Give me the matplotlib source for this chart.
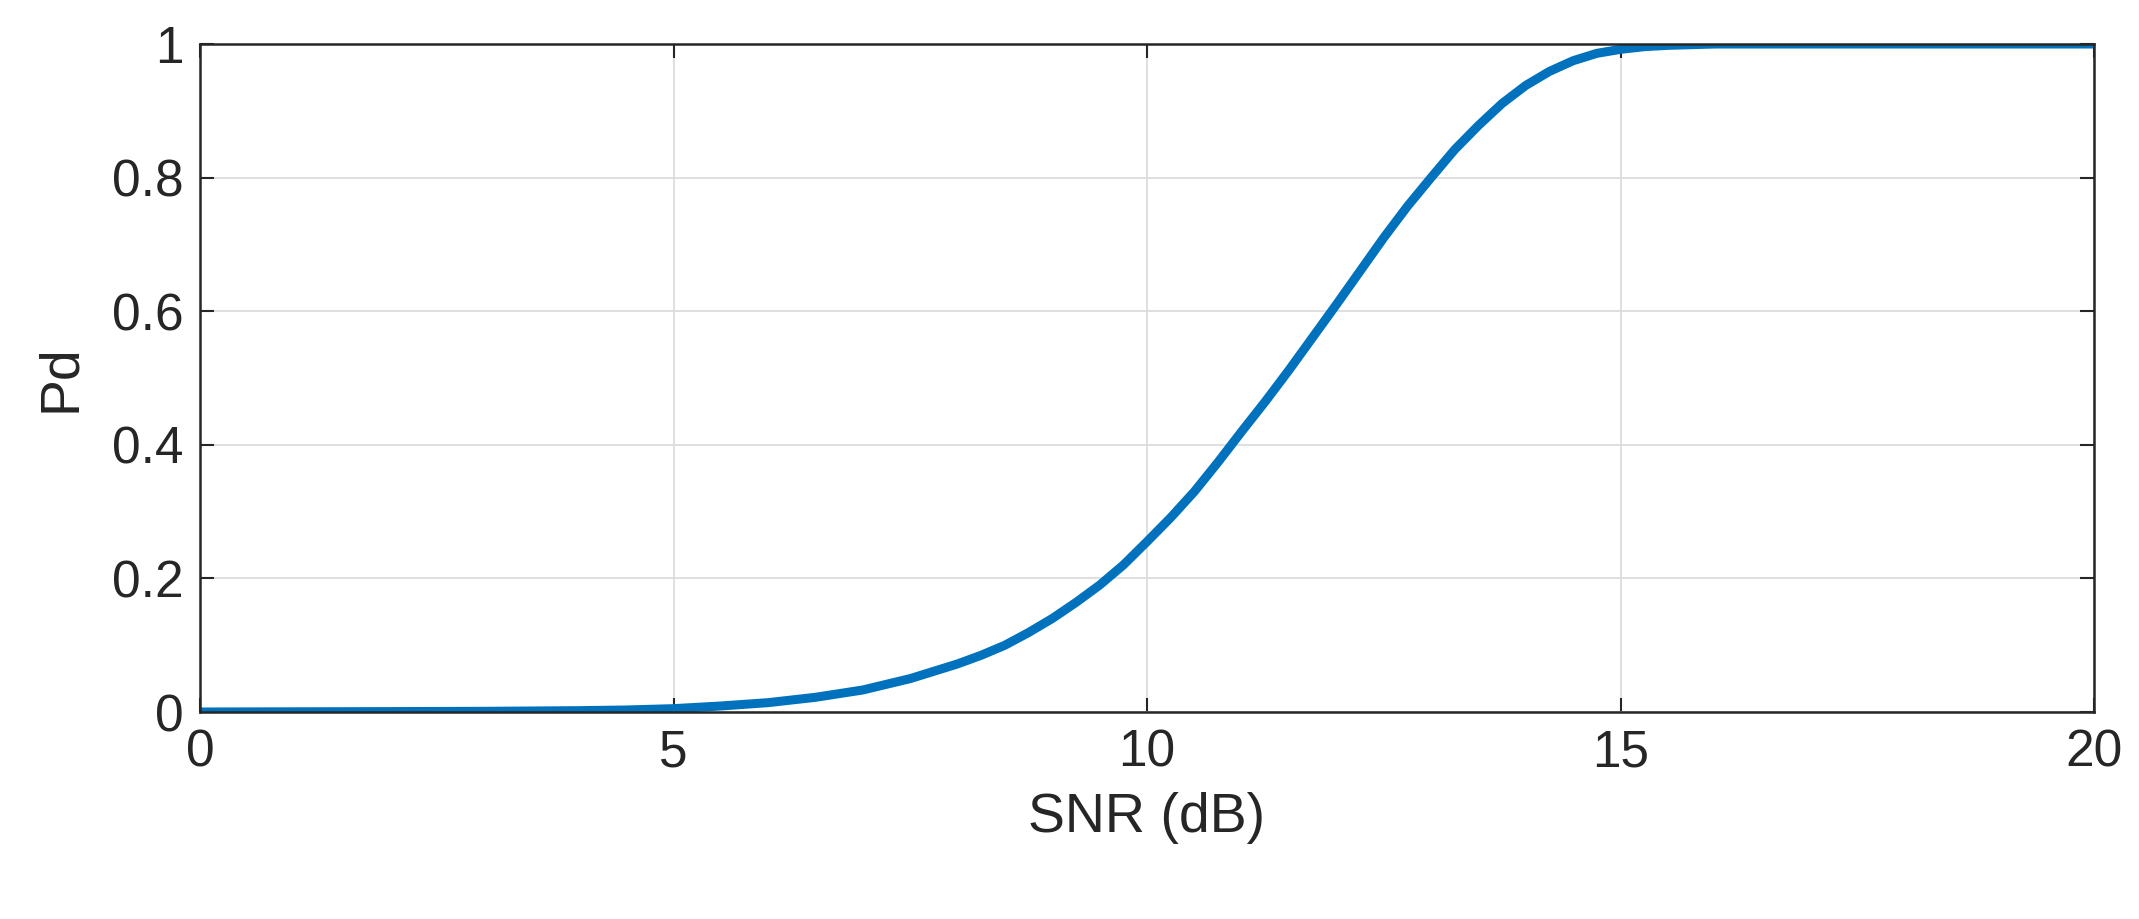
import matplotlib
matplotlib.use("Agg")
import matplotlib.pyplot as plt

plt.rcParams['font.family'] = ['Liberation Sans', 'DejaVu Sans']

snr = [0, 1, 2, 3, 4, 4.5, 5, 5.5, 6, 6.5, 7, 7.5, 8, 8.25, 8.5, 8.75, 9, 9.25,
       9.5, 9.75, 10, 10.25, 10.5, 10.75, 11, 11.25, 11.5, 11.75, 12, 12.25,
       12.5, 12.75, 13, 13.25, 13.5, 13.75, 14, 14.25, 14.5, 14.75, 15, 15.25,
       15.5, 16, 17, 18, 19, 20]
pd_vals = [0, 0.0003, 0.0006, 0.001, 0.002, 0.003, 0.005, 0.009, 0.014, 0.022,
           0.033, 0.05, 0.072, 0.085, 0.1, 0.119, 0.14, 0.164, 0.19, 0.22,
           0.255, 0.291, 0.33, 0.374, 0.42, 0.465, 0.512, 0.561, 0.61, 0.66,
           0.71, 0.757, 0.8, 0.842, 0.878, 0.911, 0.938, 0.959, 0.975, 0.986,
           0.992, 0.996, 0.998, 1, 1, 1, 1, 1]

fig = plt.figure(figsize=(21.39, 9.19), dpi=100)
ax = fig.add_axes([200 / 2139, 1 - 712 / 919, (2094 - 200) / 2139, (712 - 44) / 919])
ax.plot(snr, pd_vals, color='#0072BD', lw=6.5, solid_capstyle='butt')
ax.set_xlim(0, 20)
ax.set_ylim(0, 1)
ax.set_xticks([0, 5, 10, 15, 20])
ax.set_yticks([0, 0.2, 0.4, 0.6, 0.8, 1])
ax.set_yticklabels(['0', '0.2', '0.4', '0.6', '0.8', '1'])
ax.grid(True, color='#dcdcdc', lw=1.3)
ax.tick_params(direction='in', top=True, right=True, labelsize=37, length=10,
               width=1.5, colors='#262626', pad=12)
for s in ax.spines.values():
    s.set_linewidth(1.8)
    s.set_color('#262626')
ax.set_xlabel('SNR (dB)', fontsize=40, color='#262626', labelpad=10)
ax.set_ylabel('Pd', fontsize=40, color='#262626', labelpad=18)
fig.savefig('out.png', dpi=100)
